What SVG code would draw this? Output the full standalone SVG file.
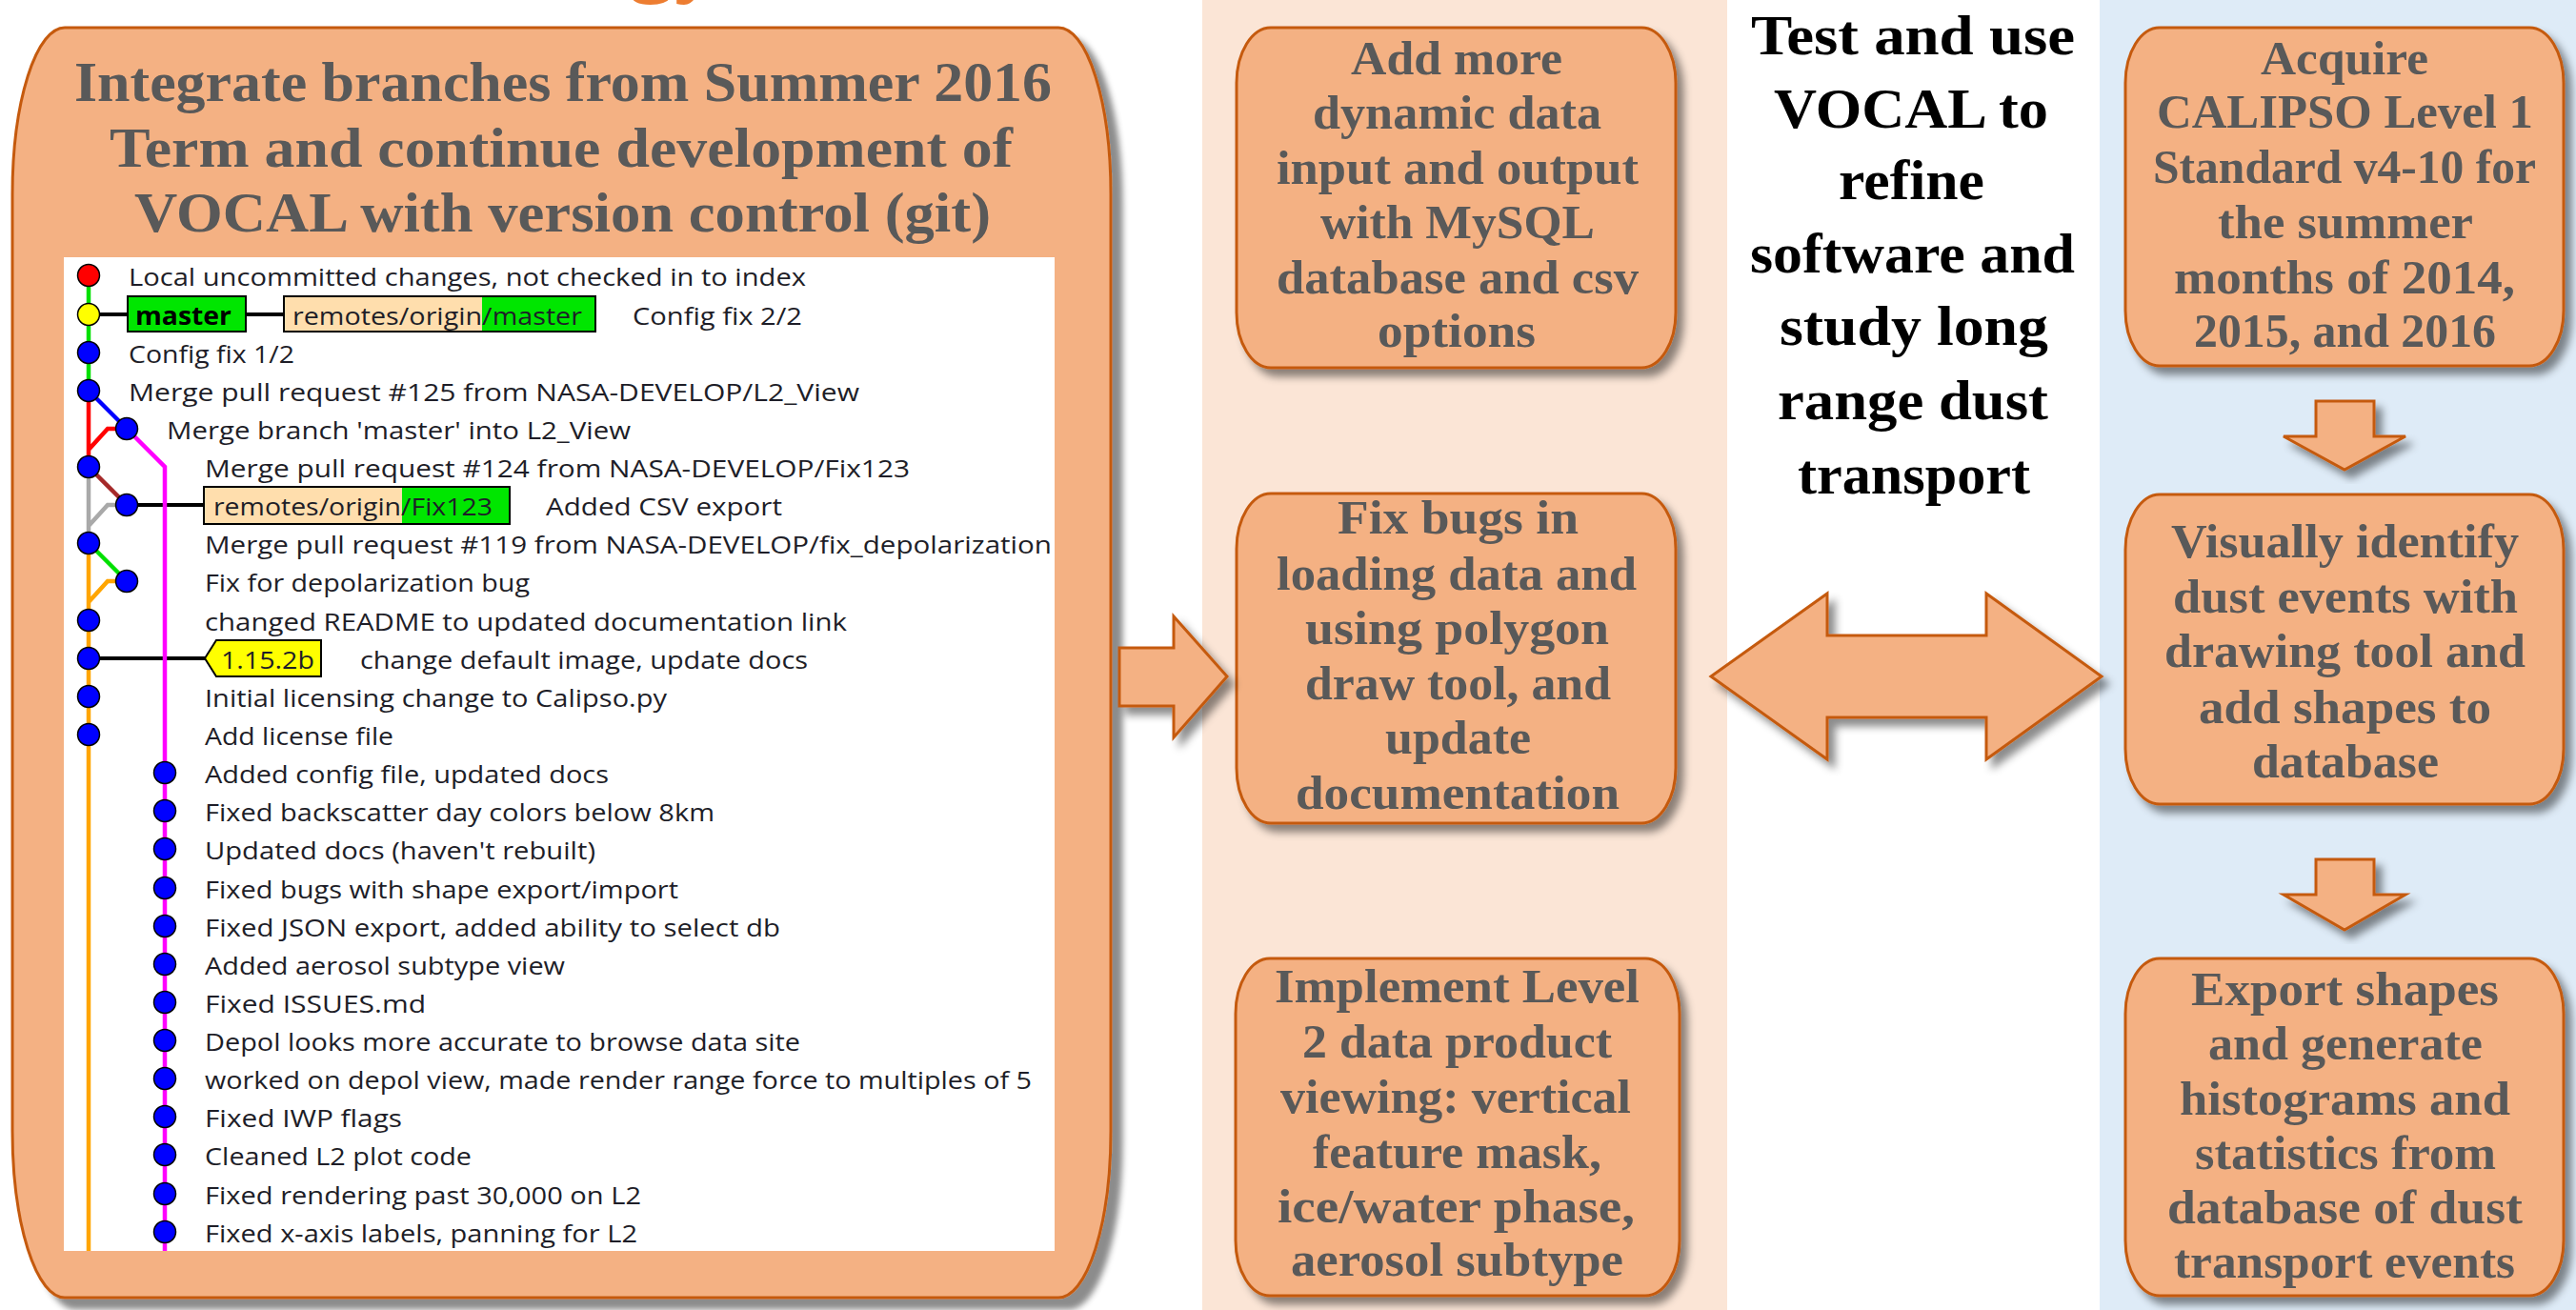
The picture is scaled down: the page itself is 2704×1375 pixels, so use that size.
<svg xmlns="http://www.w3.org/2000/svg" width="2704" height="1375" viewBox="0 0 2704 1375">
<defs>
<filter id="sh" x="-10%" y="-10%" width="130%" height="130%"><feDropShadow dx="7" dy="8" stdDeviation="4" flood-color="#000" flood-opacity="0.45"/></filter>
<filter id="shL" x="-5%" y="-5%" width="115%" height="115%"><feDropShadow dx="11" dy="11" stdDeviation="3" flood-color="#000" flood-opacity="0.45"/></filter>
</defs>
<style>
.box{fill:#F4B183;stroke:#C55A11;stroke-width:3}
.arr{fill:#F4B183;stroke:#C55A11;stroke-width:3;stroke-linejoin:miter}
.t{font-family:"Liberation Serif",serif;font-weight:bold;fill:#595959}
.s{font-size:50px}
.c{font-family:"Liberation Serif",serif;font-weight:bold;fill:#000;font-size:59px}
.g{font-family:"Open Sans",sans-serif;font-size:26px;fill:#1e1e28}
.ln{fill:none;stroke-width:4.5}
.bl{fill:none;stroke:#000;stroke-width:4}
.dot{stroke:#000;stroke-width:1.5}
.lab{stroke:#000;stroke-width:2}
</style>
<rect x="0" y="0" width="2704" height="1375" fill="#fff"/>
<rect x="1262" y="0" width="551" height="1375" fill="#FBE5D6"/>
<rect x="2204" y="0" width="500" height="1375" fill="#DEEBF7"/>
<text x="660" y="-15" font-family="Liberation Serif,serif" font-weight="bold" font-size="96" fill="#ED7D31">gy</text>

<g id="n-integrate">
<rect class="box" x="13" y="29" width="1153" height="1333" rx="55" ry="175" filter="url(#shL)"/>
<text class="t" font-size="60" x="78" y="106" textLength="1026" lengthAdjust="spacingAndGlyphs">Integrate branches from Summer 2016</text>
<text class="t" font-size="60" x="115" y="175" textLength="948" lengthAdjust="spacingAndGlyphs">Term and continue development of</text>
<text class="t" font-size="60" x="141" y="243" textLength="899" lengthAdjust="spacingAndGlyphs">VOCAL with version control (git)</text>
<rect x="67" y="270" width="1040" height="1043" fill="#fff"/>
<g id="git-graph">
<path class="ln" stroke="#00E000" d="M93 289V410"/>
<path class="ln" stroke="#FF0000" d="M93 410V490M93 472L113 450H133"/>
<path class="ln" stroke="#0000FF" d="M93 410L133 450"/>
<path class="ln" stroke="#A9A9A9" d="M93 490V570M93 552L113 530H133"/>
<path class="ln" stroke="#A52A2A" d="M93 490L133 530"/>
<path class="ln" stroke="#00E000" d="M93 570L133 610"/>
<path class="ln" stroke="#FFA500" d="M93 570V1313M93 632L113 610H133"/>
<path class="bl" d="M93 330H134M258 330H298M133 530H214M93 691H215"/>
<path class="ln" stroke="#FF00FF" d="M133 450L173 490V1313"/>
<g class="dot">
<circle cx="93" cy="289" r="11.5" fill="#FF0000"/>
<circle cx="93" cy="330" r="11.5" fill="#FFFF00"/>
<g fill="#0000FF">
<circle cx="93" cy="370" r="11.5"/><circle cx="93" cy="410" r="11.5"/><circle cx="133" cy="450" r="11.5"/>
<circle cx="93" cy="490" r="11.5"/><circle cx="133" cy="530" r="11.5"/><circle cx="93" cy="570" r="11.5"/>
<circle cx="133" cy="610" r="11.5"/><circle cx="93" cy="651" r="11.5"/><circle cx="93" cy="691" r="11.5"/>
<circle cx="93" cy="731" r="11.5"/><circle cx="93" cy="771" r="11.5"/>
<circle cx="173" cy="811" r="11.5"/><circle cx="173" cy="851" r="11.5"/><circle cx="173" cy="891" r="11.5"/>
<circle cx="173" cy="932" r="11.5"/><circle cx="173" cy="972" r="11.5"/><circle cx="173" cy="1012" r="11.5"/>
<circle cx="173" cy="1052" r="11.5"/><circle cx="173" cy="1092" r="11.5"/><circle cx="173" cy="1132" r="11.5"/>
<circle cx="173" cy="1172" r="11.5"/><circle cx="173" cy="1212" r="11.5"/><circle cx="173" cy="1253" r="11.5"/>
<circle cx="173" cy="1293" r="11.5"/>
</g>
</g>
<rect class="lab" x="134" y="311" width="124" height="37" fill="#00E600"/>
<rect x="298" y="311" width="208" height="37" fill="#FFDEAD"/>
<rect x="506" y="311" width="119" height="37" fill="#00E600"/>
<rect class="lab" x="298" y="311" width="327" height="37" fill="none"/>
<rect x="214" y="511" width="208" height="39" fill="#FFDEAD"/>
<rect x="422" y="511" width="113" height="39" fill="#00E600"/>
<rect class="lab" x="214" y="511" width="321" height="39" fill="none"/>
<polygon class="lab" points="215,691 227,672 337,672 337,710 227,710" fill="#FFFF00"/>
<g class="g">
<text x="135" y="300" textLength="711" lengthAdjust="spacingAndGlyphs">Local uncommitted changes, not checked in to index</text>
<text x="142" y="341" font-weight="bold" fill="#000" textLength="101" lengthAdjust="spacingAndGlyphs">master</text>
<text x="307" y="341" textLength="304" lengthAdjust="spacingAndGlyphs">remotes/origin/master</text>
<text x="664" y="341" textLength="178" lengthAdjust="spacingAndGlyphs">Config fix 2/2</text>
<text x="135" y="381" textLength="174" lengthAdjust="spacingAndGlyphs">Config fix 1/2</text>
<text x="135" y="421" textLength="767" lengthAdjust="spacingAndGlyphs">Merge pull request #125 from NASA-DEVELOP/L2_View</text>
<text x="175" y="461" textLength="487" lengthAdjust="spacingAndGlyphs">Merge branch 'master' into L2_View</text>
<text x="215" y="501" textLength="740" lengthAdjust="spacingAndGlyphs">Merge pull request #124 from NASA-DEVELOP/Fix123</text>
<text x="224" y="541" textLength="293" lengthAdjust="spacingAndGlyphs">remotes/origin/Fix123</text>
<text x="573" y="541" textLength="248" lengthAdjust="spacingAndGlyphs">Added CSV export</text>
<text x="215" y="581" textLength="889" lengthAdjust="spacingAndGlyphs">Merge pull request #119 from NASA-DEVELOP/fix_depolarization</text>
<text x="215" y="621" textLength="341" lengthAdjust="spacingAndGlyphs">Fix for depolarization bug</text>
<text x="215" y="662" textLength="674" lengthAdjust="spacingAndGlyphs">changed README to updated documentation link</text>
<text x="232" y="702" textLength="98" lengthAdjust="spacingAndGlyphs">1.15.2b</text>
<text x="378" y="702" textLength="470" lengthAdjust="spacingAndGlyphs">change default image, update docs</text>
<text x="215" y="742" textLength="485" lengthAdjust="spacingAndGlyphs">Initial licensing change to Calipso.py</text>
<text x="215" y="782" textLength="198" lengthAdjust="spacingAndGlyphs">Add license file</text>
<text x="215" y="822" textLength="424" lengthAdjust="spacingAndGlyphs">Added config file, updated docs</text>
<text x="215" y="862" textLength="535" lengthAdjust="spacingAndGlyphs">Fixed backscatter day colors below 8km</text>
<text x="215" y="902" textLength="410" lengthAdjust="spacingAndGlyphs">Updated docs (haven't rebuilt)</text>
<text x="215" y="943" textLength="497" lengthAdjust="spacingAndGlyphs">Fixed bugs with shape export/import</text>
<text x="215" y="983" textLength="604" lengthAdjust="spacingAndGlyphs">Fixed JSON export, added ability to select db</text>
<text x="215" y="1023" textLength="378" lengthAdjust="spacingAndGlyphs">Added aerosol subtype view</text>
<text x="215" y="1063" textLength="232" lengthAdjust="spacingAndGlyphs">Fixed ISSUES.md</text>
<text x="215" y="1103" textLength="625" lengthAdjust="spacingAndGlyphs">Depol looks more accurate to browse data site</text>
<text x="215" y="1143" textLength="868" lengthAdjust="spacingAndGlyphs">worked on depol view, made render range force to multiples of 5</text>
<text x="215" y="1183" textLength="207" lengthAdjust="spacingAndGlyphs">Fixed IWP flags</text>
<text x="215" y="1223" textLength="280" lengthAdjust="spacingAndGlyphs">Cleaned L2 plot code</text>
<text x="215" y="1264" textLength="458" lengthAdjust="spacingAndGlyphs">Fixed rendering past 30,000 on L2</text>
<text x="215" y="1304" textLength="454" lengthAdjust="spacingAndGlyphs">Fixed x-axis labels, panning for L2</text>
</g>
</g>
</g>

<g id="n-mysql">
<rect class="box" x="1298" y="29" width="461" height="357" rx="36" ry="58" filter="url(#sh)"/>
<g class="t s">
<text x="1418" y="78" textLength="222" lengthAdjust="spacingAndGlyphs">Add more</text>
<text x="1378" y="135" textLength="303" lengthAdjust="spacingAndGlyphs">dynamic data</text>
<text x="1340" y="193" textLength="380" lengthAdjust="spacingAndGlyphs">input and output</text>
<text x="1386" y="250" textLength="288" lengthAdjust="spacingAndGlyphs">with MySQL</text>
<text x="1340" y="308" textLength="380" lengthAdjust="spacingAndGlyphs">database and csv</text>
<text x="1446" y="364" textLength="166" lengthAdjust="spacingAndGlyphs">options</text>
</g>
</g>

<g id="n-fixbugs">
<rect class="box" x="1298" y="518" width="461" height="346" rx="36" ry="58" filter="url(#sh)"/>
<g class="t s">
<text x="1404" y="560" textLength="253" lengthAdjust="spacingAndGlyphs">Fix bugs in</text>
<text x="1340" y="619" textLength="378" lengthAdjust="spacingAndGlyphs">loading data and</text>
<text x="1370" y="676" textLength="319" lengthAdjust="spacingAndGlyphs">using polygon</text>
<text x="1370" y="734" textLength="321" lengthAdjust="spacingAndGlyphs">draw tool, and</text>
<text x="1454" y="791" textLength="153" lengthAdjust="spacingAndGlyphs">update</text>
<text x="1360" y="849" textLength="340" lengthAdjust="spacingAndGlyphs">documentation</text>
</g>
</g>

<g id="n-level2">
<rect class="box" x="1297" y="1006" width="466" height="354" rx="36" ry="58" filter="url(#sh)"/>
<g class="t s">
<text x="1338" y="1052" textLength="383" lengthAdjust="spacingAndGlyphs">Implement Level</text>
<text x="1367" y="1110" textLength="325" lengthAdjust="spacingAndGlyphs">2 data product</text>
<text x="1344" y="1168" textLength="368" lengthAdjust="spacingAndGlyphs">viewing: vertical</text>
<text x="1378" y="1226" textLength="303" lengthAdjust="spacingAndGlyphs">feature mask,</text>
<text x="1341" y="1283" textLength="375" lengthAdjust="spacingAndGlyphs">ice/water phase,</text>
<text x="1355" y="1339" textLength="349" lengthAdjust="spacingAndGlyphs">aerosol subtype</text>
</g>
</g>

<g id="n-test">
<g class="c">
<text x="1838" y="57" textLength="340" lengthAdjust="spacingAndGlyphs">Test and use</text>
<text x="1862" y="134" textLength="288" lengthAdjust="spacingAndGlyphs">VOCAL to</text>
<text x="1930" y="209" textLength="153" lengthAdjust="spacingAndGlyphs">refine</text>
<text x="1837" y="286" textLength="341" lengthAdjust="spacingAndGlyphs">software and</text>
<text x="1868" y="362" textLength="282" lengthAdjust="spacingAndGlyphs">study long</text>
<text x="1866" y="440" textLength="284" lengthAdjust="spacingAndGlyphs">range dust</text>
<text x="1887" y="518" textLength="244" lengthAdjust="spacingAndGlyphs">transport</text>
</g>
</g>

<g id="n-acquire">
<rect class="box" x="2231" y="29" width="460" height="355" rx="36" ry="58" filter="url(#sh)"/>
<g class="t s">
<text x="2373" y="78" textLength="176" lengthAdjust="spacingAndGlyphs">Acquire</text>
<text x="2264" y="134" textLength="395" lengthAdjust="spacingAndGlyphs">CALIPSO Level 1</text>
<text x="2260" y="192" textLength="402" lengthAdjust="spacingAndGlyphs">Standard v4-10 for</text>
<text x="2328" y="250" textLength="268" lengthAdjust="spacingAndGlyphs">the summer</text>
<text x="2282" y="308" textLength="358" lengthAdjust="spacingAndGlyphs">months of 2014,</text>
<text x="2303" y="364" textLength="317" lengthAdjust="spacingAndGlyphs">2015, and 2016</text>
</g>
</g>

<g id="n-identify">
<rect class="box" x="2231" y="519" width="460" height="325" rx="36" ry="58" filter="url(#sh)"/>
<g class="t s">
<text x="2279" y="585" textLength="365" lengthAdjust="spacingAndGlyphs">Visually identify</text>
<text x="2281" y="643" textLength="362" lengthAdjust="spacingAndGlyphs">dust events with</text>
<text x="2272" y="700" textLength="379" lengthAdjust="spacingAndGlyphs">drawing tool and</text>
<text x="2308" y="759" textLength="307" lengthAdjust="spacingAndGlyphs">add shapes to</text>
<text x="2364" y="816" textLength="196" lengthAdjust="spacingAndGlyphs">database</text>
</g>
</g>

<g id="n-export">
<rect class="box" x="2231" y="1006" width="460" height="354" rx="36" ry="58" filter="url(#sh)"/>
<g class="t s">
<text x="2300" y="1055" textLength="323" lengthAdjust="spacingAndGlyphs">Export shapes</text>
<text x="2318" y="1112" textLength="288" lengthAdjust="spacingAndGlyphs">and generate</text>
<text x="2288" y="1170" textLength="347" lengthAdjust="spacingAndGlyphs">histograms and</text>
<text x="2304" y="1227" textLength="316" lengthAdjust="spacingAndGlyphs">statistics from</text>
<text x="2275" y="1284" textLength="373" lengthAdjust="spacingAndGlyphs">database of dust</text>
<text x="2282" y="1341" textLength="358" lengthAdjust="spacingAndGlyphs">transport events</text>
</g>
</g>

<g id="connectors">
<polygon class="arr" filter="url(#sh)" points="1175,680 1232,680 1232,647 1288,710 1232,774 1232,741 1175,741"/>
<polygon class="arr" filter="url(#sh)" points="1796,710 1918,623 1918,667 2085,667 2085,623 2206,710 2085,797 2085,753 1918,753 1918,797"/>
<polygon class="arr" filter="url(#sh)" points="2431,421 2492,421 2492,458 2525,458 2461,493 2397,458 2431,458"/>
<polygon class="arr" filter="url(#sh)" points="2431,902 2492,902 2492,939 2525,939 2461,976 2397,939 2431,939"/>
</g>
</svg>
